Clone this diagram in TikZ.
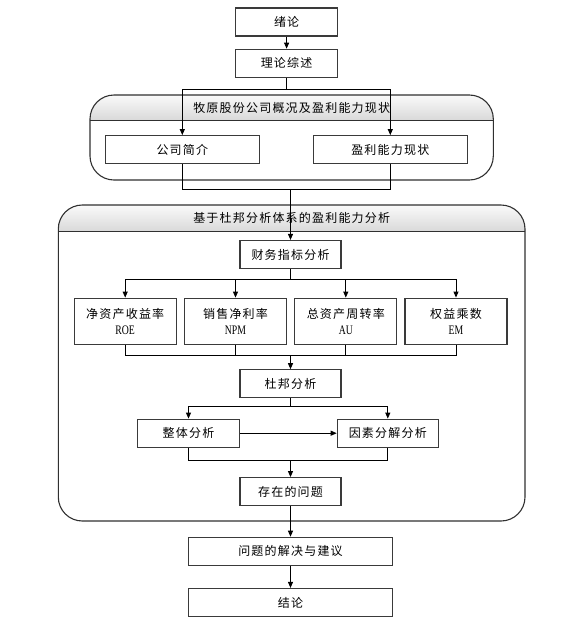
\documentclass[tikz,border=0pt]{standalone}
\usepackage{fontspec}
\setmainfont{Noto Sans CJK SC}[LetterSpace=10]
\newfontfamily\lat{Liberation Serif}[FakeStretch=0.75]
\usetikzlibrary{arrows.meta}
\definecolor{boxc}{HTML}{3A3A3A}
\definecolor{grpc}{HTML}{303030}
\definecolor{hdtop}{HTML}{FAFAFA}
\definecolor{hdbot}{HTML}{D9D9D9}
\tikzset{
  stepbox/.style={draw=boxc, line width=1.2pt, fill=white, inner sep=0pt,
    minimum height=28pt, align=center, font=\fontsize{12}{16}\selectfont},
  tallbox/.style={stepbox, minimum height=46pt},
  conn/.style={draw=black, line width=0.9pt},
  arr/.style={conn, -{Triangle[length=6pt,width=5pt]}},
  hdtext/.style={font=\fontsize{12}{16}\selectfont, inner sep=0pt},
}
\begin{document}
\begin{tikzpicture}[x=1pt,y=-1pt]
\useasboundingbox (0,0) rectangle (586,630);

% ---- group 1 ----
\begin{scope}
  \clip[rounded corners=24pt] (90,95) rectangle (493.3,180);
  \shade[top color=hdtop, bottom color=hdbot] (90,95) rectangle (493.3,120);
\end{scope}
\draw[grpc, line width=1pt] (90,120) -- (493.3,120);
\draw[grpc, line width=1.1pt, rounded corners=24pt] (90,95) rectangle (493.3,180);
\node[hdtext] (h1) at (291.7,108) {牧原股份公司概况及盈利能力现状};

% ---- group 2 ----
\begin{scope}
  \clip[rounded corners=24pt] (58.3,205) rectangle (525,521);
  \shade[top color=hdtop, bottom color=hdbot] (58.3,205) rectangle (525,231);
\end{scope}
\draw[grpc, line width=1pt] (58.3,231) -- (525,231);
\draw[grpc, line width=1.1pt, rounded corners=24pt] (58.3,205) rectangle (525,521);
\node[hdtext] (h2) at (291.7,217.5) {基于杜邦分析体系的盈利能力分析};

% ---- boxes ----
\node[stepbox, minimum width=102pt] (xl) at (286.6,22) {绪论};
\node[stepbox, minimum width=102pt] (ll) at (286.6,63.3) {理论综述};
\node[stepbox, minimum width=154pt] (gs) at (182.3,149.7) {公司简介};
\node[stepbox, minimum width=154pt] (yl) at (390.3,149.7) {盈利能力现状};
\node[stepbox, minimum width=101pt] (cw) at (290.5,254.5) {财务指标分析};
\node[tallbox, minimum width=102pt] (roe) at (125.2,321.2) {净资产收益率\\{\lat\fontsize{13}{16}\selectfont ROE}};
\node[tallbox, minimum width=102pt] (npm) at (235.5,321.2) {销售净利率\\{\lat\fontsize{13}{16}\selectfont NPM}};
\node[tallbox, minimum width=102pt] (au) at (345.8,321.2) {总资产周转率\\{\lat\fontsize{13}{16}\selectfont AU}};
\node[tallbox, minimum width=102pt] (em) at (456,321.2) {权益乘数\\{\lat\fontsize{13}{16}\selectfont EM}};
\node[stepbox, minimum width=101pt] (db) at (290.5,383.8) {杜邦分析};
\node[stepbox, minimum width=102pt] (zt) at (188.5,433.2) {整体分析};
\node[stepbox, minimum width=101pt] (ys) at (387.8,433.2) {因素分解分析};
\node[stepbox, minimum width=101pt] (cz) at (290.5,491.7) {存在的问题};
\node[stepbox, minimum width=204pt] (wt) at (290.5,551.3) {问题的解决与建议};
\node[stepbox, minimum width=204pt] (jl) at (290.5,602.5) {结论};

% ---- junction coordinates ----
\coordinate (s1) at (286.6,89);
\coordinate (j1) at (290.5,189);
\coordinate (s2) at (290.5,279.3);
\coordinate (j2) at (290.5,355.7);
\coordinate (s3) at (290.5,406);
\coordinate (j3) at (290.5,460.7);

% ---- connectors ----
\draw[arr] (xl.south) -- (ll.north);
\draw[conn] (ll.south) -- (s1);
\draw[arr] (s1) -| (gs.north);
\draw[arr] (s1) -| (yl.north);

\draw[conn] (gs.south) |- (j1);
\draw[conn] (yl.south) |- (j1);
\draw[arr] (j1) -- (cw.north);

\draw[conn] (cw.south) -- (s2);
\draw[arr] (s2) -| (roe.north);
\draw[arr] (s2) -| (npm.north);
\draw[arr] (s2) -| (au.north);
\draw[arr] (s2) -| (em.north);

\draw[conn] (roe.south) |- (j2);
\draw[conn] (npm.south) |- (j2);
\draw[conn] (au.south) |- (j2);
\draw[conn] (em.south) |- (j2);
\draw[arr] (j2) -- (db.north);

\draw[conn] (db.south) -- (s3);
\draw[arr] (s3) -| (zt.north);
\draw[arr] (s3) -| (ys.north);
\draw[arr] (zt.east) -- (ys.west);

\draw[conn] (zt.south) |- (j3);
\draw[conn] (ys.south) |- (j3);
\draw[arr] (j3) -- (cz.north);

\draw[arr] (cz.south) -- (wt.north);
\draw[arr] (wt.south) -- (jl.north);
\end{tikzpicture}
\end{document}
